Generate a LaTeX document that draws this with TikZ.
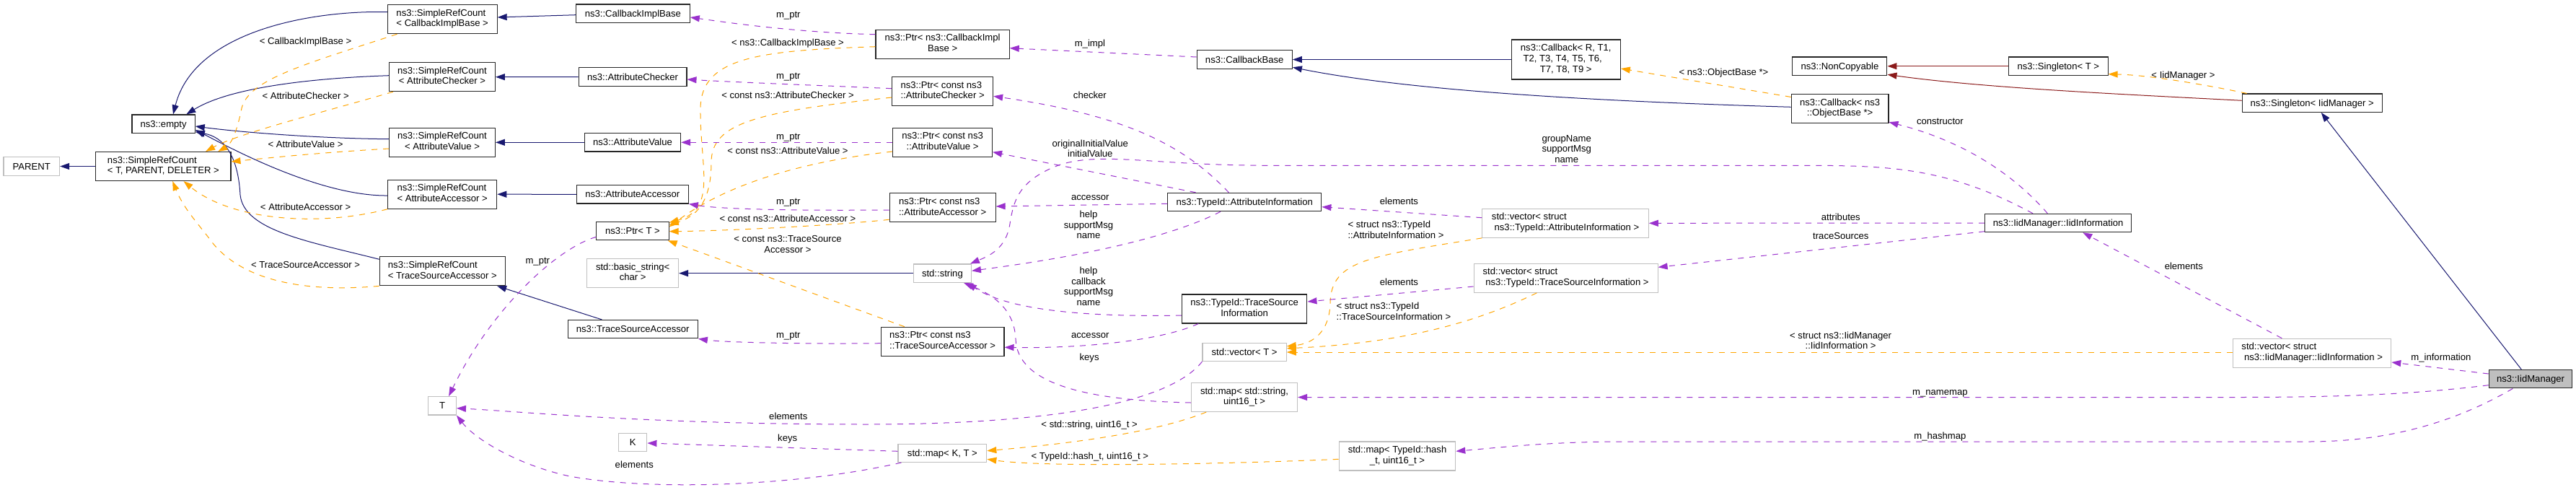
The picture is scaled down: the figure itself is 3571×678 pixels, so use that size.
\documentclass[tikz,border=0pt]{standalone}
\usepackage{fontspec}
\setmainfont{Liberation Sans}
\usetikzlibrary{arrows.meta}
\definecolor{dxblue}{HTML}{191970}
\definecolor{dxpurple}{HTML}{9A32CD}
\definecolor{dxorange}{HTML}{FFA500}
\definecolor{dxred}{HTML}{8B1A1A}
\definecolor{dxgray}{HTML}{BFBFBF}
\newcommand\dxtwo[2]{\begin{tabular}{@{}l@{}}#1\\\multicolumn{1}{@{}c@{}}{#2}\end{tabular}}
\newcommand\dxthree[3]{\begin{tabular}{@{}l@{}}#1\\#2\\\multicolumn{1}{@{}c@{}}{#3}\end{tabular}}
\begin{document}
\begin{tikzpicture}[x=1pt,y=-1pt,
  font=\fontsize{13.1}{14.6}\selectfont,
  dxbox/.style={draw=black!85, line width=1.1pt, inner sep=0pt, fill=white,
    minimum height=25.4pt, text height=10.5pt, text depth=1.5pt},
  dxgbox/.style={dxbox, draw=dxgray},
  dxhbox/.style={dxbox, fill=dxgray},
  dxh2/.style={minimum height=40pt, text height=, text depth=},
  dxh3/.style={minimum height=55pt, text height=, text depth=},
  dxlbl/.style={inner sep=0pt, text height=10.5pt, text depth=1.5pt},
  dxlblm/.style={inner sep=0pt, align=center},
  dxtip/.style={-{Triangle[length=13pt,width=9pt]}},
  dxinh/.style={draw=dxblue, line width=1pt, dxtip},
  dxpriv/.style={draw=dxred, line width=1pt, dxtip},
  dxtpl/.style={draw=dxorange, line width=1pt, dash pattern=on 8pt off 8pt, dxtip},
  dxmem/.style={draw=dxpurple, line width=1pt, dash pattern=on 8pt off 8pt, dxtip}
]
\fill[white] (0,0) rectangle (3571,678);
\useasboundingbox (0,0) rectangle (3571,678);

% ---------- nodes ----------
\node[dxgbox, minimum width=77.7] (parent) at (43.8,230.5) {PARENT};
\node[dxbox, dxh2, minimum width=187.1] (srcT) at (226.4,230.5) {\dxtwo{ns3::SimpleRefCount}{< T, PARENT, DELETER >}};
\node[dxbox, minimum width=87.3] (empty) at (226.6,171.7) {ns3::empty};
\node[dxbox, dxh2, minimum width=151.8] (srcCIB) at (613.2,26.7) {\dxtwo{ns3::SimpleRefCount}{< CallbackImplBase >}};
\node[dxbox, dxh2, minimum width=146.8] (srcAC) at (613,106.7) {\dxtwo{ns3::SimpleRefCount}{< AttributeChecker >}};
\node[dxbox, dxh2, minimum width=146.8] (srcAV) at (613,197.3) {\dxtwo{ns3::SimpleRefCount}{< AttributeValue >}};
\node[dxbox, dxh2, minimum width=151] (srcAA) at (613.2,269.2) {\dxtwo{ns3::SimpleRefCount}{< AttributeAccessor >}};
\node[dxbox, dxh2, minimum width=174.3] (srcTSA) at (613.4,375.8) {\dxtwo{ns3::SimpleRefCount}{< TraceSourceAccessor >}};
\node[dxbox, minimum width=157.7] (cib) at (877.4,18.7) {ns3::CallbackImplBase};
\node[dxbox, minimum width=149.7] (ac) at (877.1,106.5) {ns3::AttributeChecker};
\node[dxbox, minimum width=133.2] (av) at (877,197.3) {ns3::AttributeValue};
\node[dxbox, minimum width=155] (aa) at (876.8,269.3) {ns3::AttributeAccessor};
\node[dxbox, minimum width=100.3] (ptrT) at (877,320) {ns3::Ptr< T >};
\node[dxgbox, dxh2, minimum width=126.7] (bstr) at (877.2,378.7) {\dxtwo{std::basic\_string<}{char >}};
\node[dxbox, minimum width=180.3] (tsa) at (877.2,456.2) {ns3::TraceSourceAccessor};
\node[dxgbox, minimum width=38.6] (T) at (613.1,562.3) {T};
\node[dxgbox, minimum width=39.1] (K) at (877.3,613) {K};
\node[dxbox, dxh2, minimum width=185.2] (ptrCIB) at (1306.6,61.2) {\dxtwo{ns3::Ptr< ns3::CallbackImpl}{Base >}};
\node[dxbox, dxh2, minimum width=140] (ptrAC) at (1306.6,126.7) {\dxtwo{ns3::Ptr< const ns3}{::AttributeChecker >}};
\node[dxbox, dxh2, minimum width=137.8] (ptrAV) at (1306.6,197.3) {\dxtwo{ns3::Ptr< const ns3}{::AttributeValue >}};
\node[dxbox, dxh2, minimum width=147] (ptrAA) at (1306.6,287.8) {\dxtwo{ns3::Ptr< const ns3}{::AttributeAccessor >}};
\node[dxgbox, minimum width=80] (str) at (1306.4,378.7) {std::string};
\node[dxbox, dxh2, minimum width=170.7] (ptrTSA) at (1306.6,473.2) {\dxtwo{ns3::Ptr< const ns3}{::TraceSourceAccessor >}};
\node[dxgbox, minimum width=122.8] (mapKT) at (1306.4,627.8) {std::map< K, T >};
\node[dxbox, minimum width=132.3] (cb) at (1725.2,82.5) {ns3::CallbackBase};
\node[dxbox, minimum width=213.3] (attrInfo) at (1725.2,280) {ns3::TypeId::AttributeInformation};
\node[dxbox, dxh2, minimum width=173.6] (tsInfo) at (1725.1,428) {\dxtwo{ns3::TypeId::TraceSource}{Information}};
\node[dxgbox, minimum width=116.2] (vecT) at (1725.1,487.8) {std::vector< T >};
\node[dxgbox, dxh2, minimum width=147.2] (mapStr) at (1725,550.5) {\dxtwo{std::map< std::string,}{uint16\_t >}};
\node[dxbox, dxh3, minimum width=151.2] (cbR) at (2170.7,82.5) {\dxthree{ns3::Callback< R, T1,}{\ T2, T3, T4, T5, T6,}{T7, T8, T9 >}};
\node[dxgbox, dxh2, minimum width=230.4] (vecAI) at (2170.1,309.3) {\dxtwo{std::vector< struct}{\ ns3::TypeId::AttributeInformation >}};
\node[dxgbox, dxh2, minimum width=254.9] (vecTSI) at (2170.6,385.3) {\dxtwo{std::vector< struct}{\ ns3::TypeId::TraceSourceInformation >}};
\node[dxgbox, dxh2, minimum width=161.5] (mapHash) at (1937,632) {\dxtwo{std::map< TypeId::hash}{\_t, uint16\_t >}};
\node[dxbox, minimum width=131] (nonCopy) at (2550.4,91.7) {ns3::NonCopyable};
\node[dxbox, minimum width=137.5] (singT) at (2853.3,91.7) {ns3::Singleton< T >};
\node[dxbox, dxh2, minimum width=134.7] (cbObj) at (2550.6,150.7) {\dxtwo{ns3::Callback< ns3}{::ObjectBase *>}};
\node[dxbox, minimum width=202.9] (iidInfo) at (2853.2,309) {ns3::IidManager::IidInformation};
\node[dxbox, minimum width=194] (singIid) at (3205.2,142.7) {ns3::Singleton< IidManager >};
\node[dxgbox, dxh2, minimum width=219] (vecIid) at (3205.2,489.3) {\dxtwo{std::vector< struct}{\ ns3::IidManager::IidInformation >}};
\node[dxhbox, minimum width=115.5] (iidMgr) at (3508,525.2) {ns3::IidManager};

% ---------- inheritance (blue) ----------
\draw[dxinh] (srcT.west) -- (parent.east);
\draw[dxinh] ([shift={(0,-10)}]srcCIB.west) .. controls (440,14) and (270,40) .. ([shift={(13.4,0)}]empty.north);
\draw[dxinh] ([shift={(0,-2)}]srcAC.west) .. controls (440,108) and (320,120) .. ([shift={(31.7,0)}]empty.north);
\draw[dxinh] ([shift={(0,-4.6)}]srcAV.west) .. controls (450,192) and (340,184) .. ([shift={(0,3.3)}]empty.east);
\draw[dxinh] ([shift={(0,1.8)}]srcAA.west) .. controls (440,272) and (310,200) .. ([shift={(0,8.3)}]empty.east);
\draw[dxinh] ([shift={(0,-16.5)}]srcTSA.west) .. controls (430,335) and (338,320) .. (333,270) .. controls (330,215) and (310,190) .. ([shift={(0,11)}]empty.east);
\draw[dxinh] ([shift={(0,2)}]cib.west) -- ([shift={(0,-2.7)}]srcCIB.east);
\draw[dxinh] (ac.west) -- (srcAC.east);
\draw[dxinh] (av.west) -- (srcAV.east);
\draw[dxinh] (aa.west) -- (srcAA.east);
\draw[dxinh] ([shift={(-42.7,0)}]tsa.north) -- ([shift={(75.7,0)}]srcTSA.south);
\draw[dxinh] (str.west) -- (bstr.east);
\draw[dxinh] (cbR.west) -- (cb.east);
\draw[dxinh] ([shift={(0,-2.4)}]cbObj.west) .. controls (2200,140) and (1950,125) .. ([shift={(0,10.8)}]cb.east);
\draw[dxinh] ([shift={(-12.7,0)}]iidMgr.north) -- ([shift={(12.5,0)}]singIid.south);

% ---------- private (dark red) ----------
\draw[dxpriv] (singT.west) -- (nonCopy.east);
\draw[dxpriv] ([shift={(0,-3.4)}]singIid.west) .. controls (2950,131) and (2750,122) .. ([shift={(0,11.6)}]nonCopy.east);

% ---------- template instances (orange) ----------
\draw[dxtpl] ([shift={(13.7,0)}]srcCIB.south west) .. controls (420,90) and (345,110) .. (335,150) .. controls (328,185) and (320,200) .. ([shift={(75.9,0)}]srcT.north);
\draw[dxtpl] ([shift={(5.7,0)}]srcAC.south west) .. controls (450,155) and (330,185) .. ([shift={(58.7,0)}]srcT.north);
\draw[dxtpl] ([shift={(0,8.7)}]srcAV.west) .. controls (450,211) and (380,218) .. ([shift={(0,-6.5)}]srcT.east);
\draw[dxtpl] (srcAA.south west) .. controls (440,315) and (320,305) .. ([shift={(28.1,0)}]srcT.south);
\draw[dxtpl] (srcTSA.south west) .. controls (430,405) and (340,392) .. (295,337) .. controls (275,310) and (255,290) .. ([shift={(12.8,0)}]srcT.south);
\draw[dxtpl] ([shift={(0,3.5)}]ptrCIB.west) .. controls (1050,70) and (972,80) .. (971,150) .. controls (970,230) and (995,290) .. ([shift={(0,1.7)}]ptrT.north east);
\draw[dxtpl] ([shift={(0,8.3)}]ptrAC.west) .. controls (1050,155) and (986,170) .. (986,225) .. controls (986,280) and (965,300) .. ([shift={(0,4.7)}]ptrT.north east);
\draw[dxtpl] ([shift={(0,12.7)}]ptrAV.west) .. controls (1100,225) and (1000,260) .. ([shift={(0,7.7)}]ptrT.north east);
\draw[dxtpl] ([shift={(0,16.5)}]ptrAA.west) .. controls (1150,313) and (1000,320) .. ([shift={(0,0.7)}]ptrT.east);
\draw[dxtpl] ([shift={(-52.8,0)}]ptrTSA.north) .. controls (1150,415) and (1000,360) .. ([shift={(-2,0)}]ptrT.south east);
\draw[dxtpl] ([shift={(21.4,0)}]mapStr.south west) .. controls (1600,600) and (1480,615) .. ([shift={(0,-3.1)}]mapKT.east);
\draw[dxtpl] ([shift={(0,4.3)}]mapHash.west) .. controls (1700,643) and (1450,648) .. ([shift={(0,8.5)}]mapKT.east);
\draw[dxtpl] ([shift={(0,4.3)}]cbObj.north west) -- ([shift={(0,12.5)}]cbR.east);
\draw[dxtpl] (vecAI.south west) .. controls (1900,355) and (1845,360) .. (1844,420) .. controls (1843,460) and (1820,476) .. ([shift={(0,-8)}]vecT.east);
\draw[dxtpl] ([shift={(-40.2,0)}]vecTSI.south) .. controls (2050,445) and (1950,475) .. ([shift={(0,-5)}]vecT.east);
\draw[dxtpl] ([shift={(0,-1.3)}]vecIid.west) -- ([shift={(0,0.2)}]vecT.east);
\draw[dxtpl] ([shift={(7,0)}]singIid.north west) .. controls (3060,118) and (2980,104) .. ([shift={(0,11)}]singT.east);

% ---------- usage (purple) ----------
\draw[dxmem] ([shift={(0,8.3)}]ptrT.west) .. controls (770,345) and (680,430) .. ([shift={(9,0)}]T.north);
\draw[dxmem] ([shift={(0,-13.5)}]ptrCIB.west) .. controls (1100,45) and (1000,30) .. ([shift={(0,5.3)}]cib.east);
\draw[dxmem] ([shift={(0,-4)}]ptrAC.west) .. controls (1150,119) and (1020,114) .. ([shift={(0,3.5)}]ac.east);
\draw[dxmem] (ptrAV.west) -- (av.east);
\draw[dxmem] ([shift={(0,3.2)}]ptrAA.west) .. controls (1100,292) and (1000,290) .. (aa.south east);
\draw[dxmem] ([shift={(0,2.5)}]ptrTSA.west) .. controls (1100,477) and (1000,474) .. (tsa.south east);
\draw[dxmem] ([shift={(0,-3.5)}]cb.west) -- ([shift={(0,5.5)}]ptrCIB.east);
\draw[dxmem] ([shift={(-21.8,0)}]attrInfo.north) .. controls (1640,200) and (1560,160) .. ([shift={(0,6.6)}]ptrAC.east);
\draw[dxmem] ([shift={(-67.7,0)}]attrInfo.north) -- ([shift={(0,13.4)}]ptrAV.east);
\draw[dxmem] ([shift={(0,2.3)}]attrInfo.west) -- ([shift={(0,-1.8)}]ptrAA.east);
\draw[dxmem] ([shift={(-33.2,0)}]attrInfo.south) .. controls (1640,320) and (1540,350) .. ([shift={(0,-3.4)}]str.east);
\draw[dxmem] ([shift={(-35.2,0)}]iidInfo.north) .. controls (2700,232) and (2620,229.3) .. (2500,229.3) -- (1760,229.3) .. controls (1600,229.3) and (1530,210) .. (1470,228) .. controls (1410,250) and (1405,280) .. (1400,310) .. controls (1395,345) and (1370,355) .. ([shift={(-2,0)}]str.north east);
\draw[dxmem] ([shift={(0,9)}]tsInfo.west) .. controls (1480,440) and (1390,425) .. ([shift={(-6,0)}]str.south east);
\draw[dxmem] ([shift={(-63.8,0)}]tsInfo.south) .. controls (1610,472) and (1500,483) .. ([shift={(0,8.1)}]ptrTSA.east);
\draw[dxmem] ([shift={(0,7.5)}]mapStr.west) .. controls (1500,555) and (1410,530) .. (1408,470) .. controls (1406,430) and (1380,410) .. ([shift={(29.6,0)}]str.south);
\draw[dxmem] (vecT.south west) .. controls (1620,560) and (1450,588) .. (1200,588) .. controls (900,588) and (720,570) .. ([shift={(0,3.4)}]T.east);
\draw[dxmem] ([shift={(0,-2.5)}]mapKT.west) -- ([shift={(0,1)}]K.east);
\draw[dxmem] ([shift={(5,0)}]mapKT.south west) .. controls (1100,675) and (900,680) .. (790,660) .. controls (720,645) and (660,610) .. (T.south east);
\draw[dxmem] ([shift={(0,-7.6)}]vecAI.west) -- ([shift={(0,6.7)}]attrInfo.east);
\draw[dxmem] ([shift={(0,11.7)}]vecTSI.west) -- ([shift={(0,-10)}]tsInfo.east);
\draw[dxmem] ([shift={(0,8.5)}]iidMgr.west) .. controls (3350,546) and (3250,550.5) .. (3100,550.5) -- (mapStr.east);
\draw[dxmem] ([shift={(-24.7,0)}]iidMgr.south) .. controls (3420,575) and (3330,612) .. (3200,612) -- (2250,612) .. controls (2150,612) and (2080,620) .. ([shift={(0,-6.7)}]mapHash.east);
\draw[dxmem] ([shift={(0,-7.2)}]iidMgr.west) -- ([shift={(0,12.7)}]vecIid.east);
\draw[dxmem] ([shift={(-14.8,0)}]iidInfo.north) .. controls (2790,240) and (2720,195) .. ([shift={(0,-2)}]cbObj.south east);
\draw[dxmem] (iidInfo.west) -- (vecAI.east);
\draw[dxmem] ([shift={(0,11.7)}]iidInfo.west) -- ([shift={(0,-15)}]vecTSI.east);
\draw[dxmem] ([shift={(-41.9,0)}]vecIid.north) -- ([shift={(34.1,0)}]iidInfo.south);

% ---------- edge labels ----------
\node[dxlbl] (l01) at (423.6,56.7) {< CallbackImplBase >};
\node[dxlbl] (l02) at (423.6,132.7) {< AttributeChecker >};
\node[dxlbl] (l03) at (423.6,200.3) {< AttributeValue >};
\node[dxlbl] (l04) at (423.6,287.3) {< AttributeAccessor >};
\node[dxlbl] (l05) at (423.6,366.7) {< TraceSourceAccessor >};
\node[dxlbl] (l06) at (1092.8,20) {m\_ptr};
\node[dxlbl] (l07) at (1092,59) {< ns3::CallbackImplBase >};
\node[dxlbl] (l08) at (1092.8,105) {m\_ptr};
\node[dxlbl] (l09) at (1092,131.7) {< const ns3::AttributeChecker >};
\node[dxlbl] (l10) at (1092.8,189) {m\_ptr};
\node[dxlbl] (l11) at (1092,208.7) {< const ns3::AttributeValue >};
\node[dxlbl] (l12) at (1092.8,279.3) {m\_ptr};
\node[dxlbl] (l13) at (1092,302.7) {< const ns3::AttributeAccessor >};
\node[dxlblm] (l14) at (1092,339.8) {\dxtwo{< const ns3::TraceSource}{Accessor >}};
\node[dxlbl] (l15) at (745.3,361.3) {m\_ptr};
\node[dxlbl] (l16) at (1092.8,464) {m\_ptr};
\node[dxlbl] (l17) at (1092.8,576.7) {elements};
\node[dxlbl] (l18) at (1091.7,607.3) {keys};
\node[dxlbl] (l19) at (879.3,644) {elements};
\node[dxlbl] (l20) at (1510.9,60) {m\_impl};
\node[dxlbl] (l21) at (1510.9,131.7) {checker};
\node[dxlblm] (l22) at (1511.3,205.7) {originalInitialValue\\initialValue};
\node[dxlbl] (l23) at (1511.3,272.7) {accessor};
\node[dxlblm] (l24) at (1509,311.5) {help\\supportMsg\\name};
\node[dxlblm] (l25) at (1509,396.7) {help\\callback\\supportMsg\\name};
\node[dxlbl] (l26) at (1511.3,464) {accessor};
\node[dxlbl] (l27) at (1510.1,494.7) {keys};
\node[dxlbl] (l28) at (1510.1,588) {< std::string, uint16\_t >};
\node[dxlbl] (l29) at (1510.9,632) {< TypeId::hash\_t, uint16\_t >};
\node[dxlblm] (l30) at (2171.7,206.5) {groupName\\supportMsg\\name};
\node[dxlbl] (l31) at (1939.4,279.3) {elements};
\node[dxlblm] (l32) at (1935,320.2) {\dxtwo{< struct ns3::TypeId}{::AttributeInformation >}};
\node[dxlbl] (l33) at (1939.4,390.7) {elements};
\node[dxlblm] (l34) at (1932,433.3) {\dxtwo{< struct ns3::TypeId}{::TraceSourceInformation >}};
\node[dxlbl] (l35) at (2389.4,100) {< ns3::ObjectBase *>};
\node[dxlbl] (l36) at (2689.4,167.7) {constructor};
\node[dxlbl] (l37) at (2551.8,300.7) {attributes};
\node[dxlbl] (l38) at (2551.8,326.7) {traceSources};
\node[dxlblm] (l39) at (2551.6,473.5) {\dxtwo{< struct ns3::IidManager}{::IidInformation >}};
\node[dxlbl] (l40) at (2689.4,542.7) {m\_namemap};
\node[dxlbl] (l41) at (2689.4,603.7) {m\_hashmap};
\node[dxlbl] (l42) at (3026.5,104) {< IidManager >};
\node[dxlbl] (l43) at (3027.3,368.7) {elements};
\node[dxlbl] (l44) at (3383.9,495.3) {m\_information};
\end{tikzpicture}
\end{document}
